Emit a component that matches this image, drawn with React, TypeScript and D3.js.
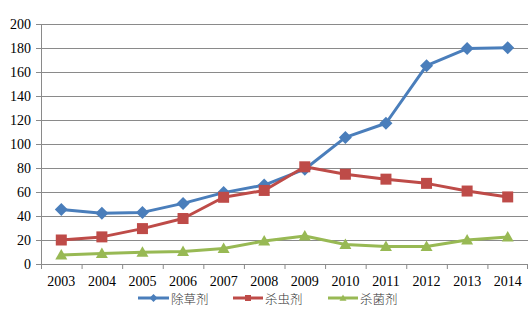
import React from "react";
import * as d3 from "d3";

const years = ["2003","2004","2005","2006","2007","2008","2009","2010","2011","2012","2013","2014"];
const herbicide = [45.5, 42.3, 43, 50.5, 59.5, 65.8, 79, 105.5, 117.3, 165.3, 179.5, 180.2];
const insecticide = [20, 22.6, 29.5, 37.9, 55.6, 61.3, 81, 74.8, 70.7, 67.2, 60.8, 55.9];
const fungicide = [7.5, 8.7, 9.8, 10.4, 12.9, 19.2, 23.4, 16.3, 14.6, 14.6, 20, 22.5];
const seriesNames = ["除草剂", "杀虫剂", "杀菌剂"];
const yTicks = [0, 20, 40, 60, 80, 100, 120, 140, 160, 180, 200];

const colors = ["#4A7EBB", "#BE4B48", "#98B954"];
const serif = "'Liberation Serif', 'Times New Roman', 'DejaVu Serif', serif";

export default function App() {
  const W = 529, H = 330;
  const left = 41, right = 528, top = 24, bottom = 264;
  const x = d3.scaleBand().domain(years).range([left, right]);
  const y = d3.scaleLinear().domain([0, 200]).range([bottom, top]);
  const cx = (yr: string) => (x(yr) as number) + x.bandwidth() / 2;
  const line = d3.line<number>().x((_, i) => cx(years[i])).y((v) => y(v));
  const data = [herbicide, insecticide, fungicide];

  const marker = (k: number, px: number, py: number, s: number, key: string) => {
    const c = colors[k];
    if (k === 0) {
      const r = s / 2 + 1;
      return <path key={key} d={`M${px},${py - r}L${px + r},${py}L${px},${py + r}L${px - r},${py}Z`} fill={c} />;
    }
    if (k === 1) {
      const r = s / 2;
      return <rect key={key} x={px - r} y={py - r} width={2 * r} height={2 * r} fill={c} />;
    }
    const r = s / 2 + 0.5;
    return <path key={key} d={`M${px},${py - r}L${px + r},${py + r * 0.75}L${px - r},${py + r * 0.75}Z`} fill={c} />;
  };

  const legendItems = [
    { x1: 138, x2: 169, tx: 171 },
    { x1: 233, x2: 263, tx: 265 },
    { x1: 328, x2: 358, tx: 360 },
  ];

  return (
    <svg width={W} height={H} style={{ position: "absolute", left: 0, top: 0, background: "#fff" }}>
      {yTicks.map((t) => (
        <g key={t}>
          {t > 0 && <line x1={left} x2={right} y1={y(t) + 0.5} y2={y(t) + 0.5} stroke="#8a8a8a" strokeWidth={1} />}
          <line x1={left - 5} x2={left} y1={y(t) + 0.5} y2={y(t) + 0.5} stroke="#8a8a8a" />
          <text x={31} y={y(t) + 5} textAnchor="end" fontFamily={serif} fontSize={14} fill="#000">{t}</text>
        </g>
      ))}
      <line x1={left + 0.5} x2={left + 0.5} y1={top} y2={bottom} stroke="#8a8a8a" />
      <line x1={left} x2={right} y1={bottom + 0.5} y2={bottom + 0.5} stroke="#8a8a8a" />
      {years.map((yr) => (
        <line key={"t" + yr} x1={(x(yr) as number) + 0.5} x2={(x(yr) as number) + 0.5} y1={bottom} y2={bottom + 5} stroke="#8a8a8a" />
      ))}
      <line x1={right - 0.5} x2={right - 0.5} y1={bottom} y2={bottom + 5} stroke="#8a8a8a" />
      {years.map((yr) => (
        <text key={"l" + yr} x={cx(yr)} y={286} textAnchor="middle" fontFamily={serif} fontSize={14} fill="#000">{yr}</text>
      ))}
      {data.map((s, k) => (
        <g key={"s" + k}>
          <path d={line(s) || ""} fill="none" stroke={colors[k]} strokeWidth={3} strokeLinejoin="round" />
          {s.map((v, i) => marker(k, cx(years[i]), y(v), 11, "m" + k + i))}
        </g>
      ))}
      {legendItems.map((it, k) => (
        <g key={"lg" + k}>
          <line x1={it.x1} x2={it.x2} y1={298} y2={298} stroke={colors[k]} strokeWidth={3} />
          {marker(k, (it.x1 + it.x2) / 2, 298, 6, "lm" + k)}
          <text x={it.tx} y={304} fontFamily="'Noto Sans CJK SC', sans-serif" fontSize={12.5} fontWeight={300} fill="#333">{seriesNames[k]}</text>
        </g>
      ))}
    </svg>
  );
}
